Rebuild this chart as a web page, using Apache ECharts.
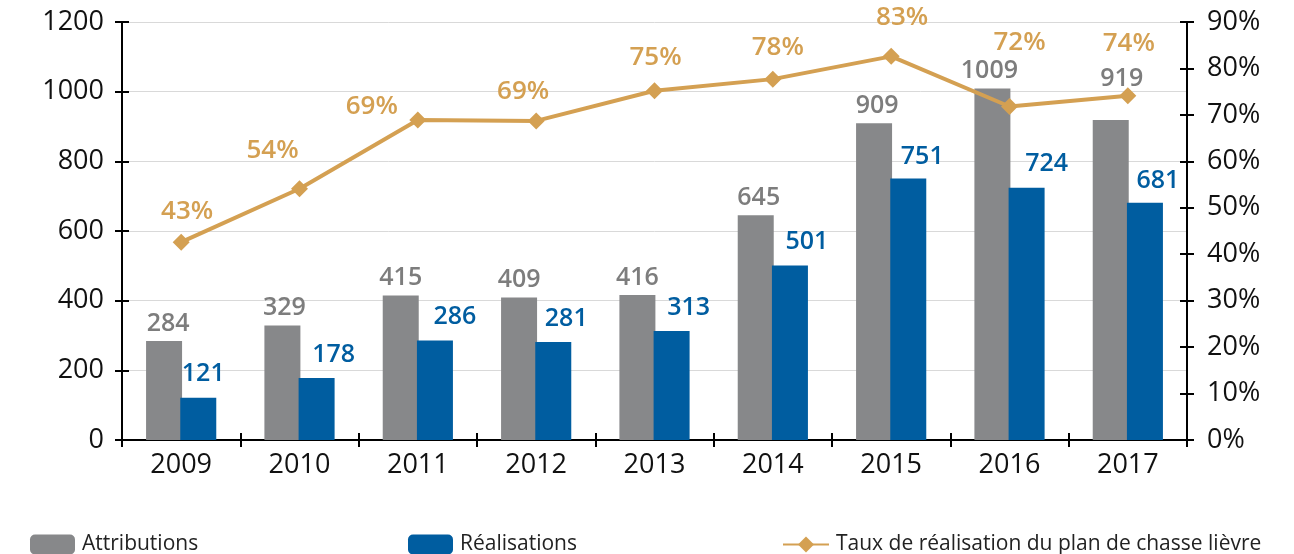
<!DOCTYPE html>
<html>
<head>
<meta charset="utf-8">
<script src="https://cdn.jsdelivr.net/npm/echarts@6/dist/echarts.min.js"></script>
<style>
  html, body { margin: 0; padding: 0; background: #fff; }
  #chart { width: 1294px; height: 554px; }
</style>
</head>
<body>
<div id="chart"></div>
<script>
// données du graphique
var years = ["2009", "2010", "2011", "2012", "2013", "2014", "2015", "2016", "2017"];
var attributions = [284, 329, 415, 409, 416, 645, 909, 1009, 919];
var realisations = [121, 178, 286, 281, 313, 501, 751, 724, 681];
var taux = [42.6, 54.1, 68.9, 68.7, 75.2, 77.7, 82.6, 71.8, 74.1];
// décalages des étiquettes (px)
var attribLabelOffsets = [[4, 0], [2, 0], [0, 0], [0, 0], [0, 0], [3, 0], [3, 0], [-3, 0], [11, -24]];
var realLabelOffsets = [[5, -4], [17, -4], [20, -4], [13, -4], [17, -4], [17, -4], [14, -2], [20, -4], [13, -2]];
var tauxLabelOffsets = [[6, -31], [-27, -38], [-46, -13], [-13, -29], [1, -33], [5, -32], [11, -39], [10, -64], [1, -52]];

var font = "Open Sans";
var chart = echarts.init(document.getElementById("chart"));

var tickStyle = { color: "#000", width: 2 };
var legendText = { fontSize: 21, color: "#222", fontFamily: font, padding: [0, 0, 0, 2] };

function withOffsets(values, offsets) {
  return values.map(function (v, i) {
    return { value: v, label: { offset: offsets[i] } };
  });
}

chart.setOption({
  animation: false,
  textStyle: { fontFamily: font },
  grid: { left: 122, right: 107, top: 22, bottom: 114 },
  legend: [
    {
      data: ["Attributions"], left: 25, top: 529,
      itemWidth: 45, itemHeight: 20, itemGap: 0,
      textStyle: legendText
    },
    {
      data: ["Réalisations"], left: 403, top: 529,
      itemWidth: 45, itemHeight: 20,
      textStyle: legendText
    },
    {
      data: ["Taux de réalisation du plan de chasse lièvre"], left: 777, top: 529,
      itemWidth: 46, itemHeight: 20,
      textStyle: legendText
    }
  ],
  xAxis: [
    {
      type: "category",
      data: years,
      axisLine: { lineStyle: tickStyle },
      axisTick: { show: true, length: 7, lineStyle: tickStyle },
      axisLabel: { fontSize: 27, color: "#111", margin: 12, fontFamily: font }
    },
    {
      // ticks intérieurs (croisés)
      type: "category",
      data: years,
      position: "bottom",
      axisLine: { show: false },
      axisTick: { show: true, inside: true, length: 7, lineStyle: tickStyle },
      axisLabel: { show: false }
    }
  ],
  yAxis: [
    {
      type: "value",
      min: 0, max: 1200, interval: 200,
      position: "left",
      axisLine: { show: true, lineStyle: tickStyle },
      axisTick: { show: true, length: 7, lineStyle: tickStyle },
      axisLabel: {
        fontSize: 27, color: "#111", margin: 18, fontFamily: font,
        formatter: function (v) { return String(v); }
      },
      splitLine: { lineStyle: { color: "#d9d9d9", width: 1 } }
    },
    {
      type: "value",
      min: 0, max: 90, interval: 10,
      position: "right",
      axisLine: { show: true, lineStyle: tickStyle },
      axisTick: { show: true, length: 7, lineStyle: tickStyle },
      axisLabel: { fontSize: 27, color: "#111", margin: 20, formatter: "{value}%", fontFamily: font },
      splitLine: { show: false }
    },
    {
      type: "value",
      min: 0, max: 1200, interval: 200,
      position: "left",
      axisLine: { show: false },
      axisTick: { show: true, inside: true, length: 7, lineStyle: tickStyle },
      axisLabel: { show: false },
      splitLine: { show: false }
    },
    {
      type: "value",
      min: 0, max: 90, interval: 10,
      position: "right",
      axisLine: { show: false },
      axisTick: { show: true, inside: true, length: 7, lineStyle: tickStyle },
      axisLabel: { show: false },
      splitLine: { show: false }
    }
  ],
  series: [
    {
      name: "Attributions",
      type: "bar",
      data: withOffsets(attributions, attribLabelOffsets),
      barWidth: 36,
      barGap: "-5%",
      itemStyle: { color: "#87888a" },
      label: {
        show: true, position: "top", distance: 5,
        fontSize: 25, fontWeight: 600, color: "#7d7d7d", fontFamily: font
      }
    },
    {
      name: "Réalisations",
      type: "bar",
      data: withOffsets(realisations, realLabelOffsets),
      barWidth: 36,
      itemStyle: { color: "#005da0" },
      label: {
        show: true, position: "top", distance: 7,
        fontSize: 25, fontWeight: 600, color: "#005da0", fontFamily: font
      }
    },
    {
      name: "Taux de réalisation du plan de chasse lièvre",
      type: "line",
      yAxisIndex: 1,
      data: withOffsets(taux, tauxLabelOffsets),
      symbol: "diamond",
      symbolSize: 17,
      lineStyle: { color: "#d4a052", width: 4 },
      itemStyle: { color: "#d4a052" },
      label: {
        show: true, position: "inside",
        fontSize: 26, fontWeight: 600, color: "#d4a052", fontFamily: font,
        formatter: function (p) { return Math.round(p.value) + "%"; }
      },
      z: 5
    }
  ]
});
</script>
</body>
</html>
